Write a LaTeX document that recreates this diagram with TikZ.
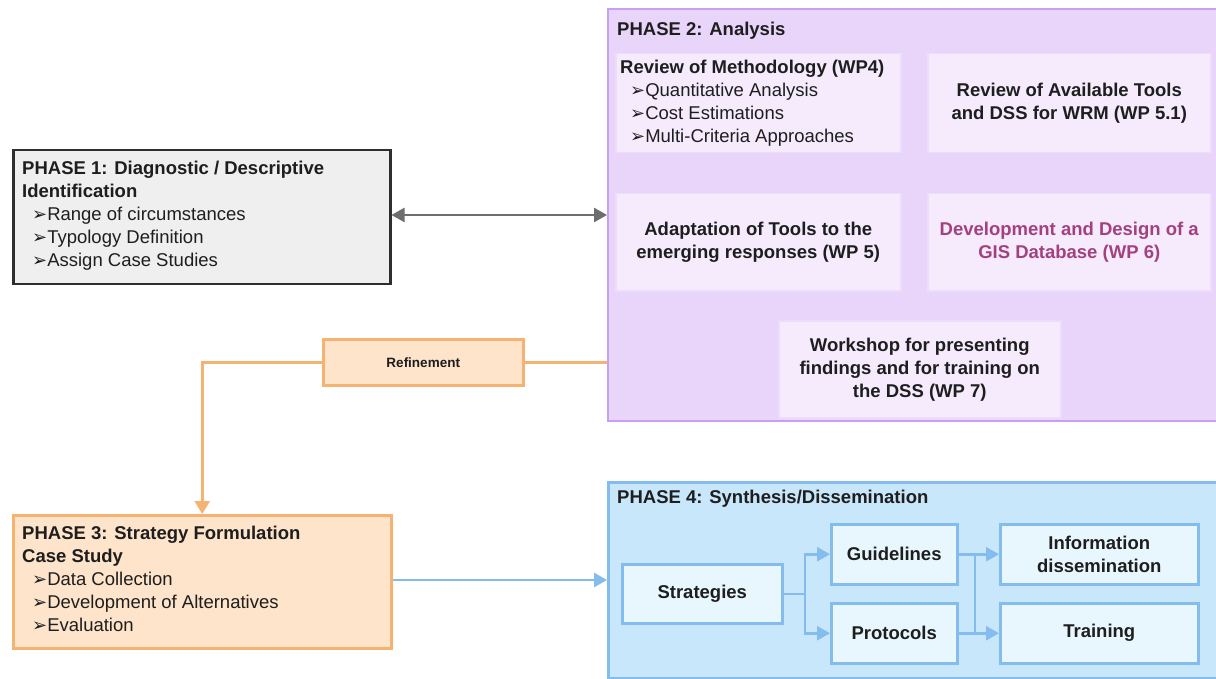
\documentclass[tikz,border=0pt]{standalone}
\usepackage{fontspec}
\setmainfont{Liberation Sans}
\newfontfamily\symfont{DejaVu Sans}
\usetikzlibrary{arrows.meta}
\definecolor{txt}{HTML}{1E1E1E}
\definecolor{grayfill}{HTML}{EFEFEF}
\definecolor{grayline}{HTML}{2E2E2E}
\definecolor{purfill}{HTML}{E9D4FA}
\definecolor{purline}{HTML}{C9A0F1}
\definecolor{purin}{HTML}{F5EBFD}
\definecolor{purinline}{HTML}{EDDCFB}
\definecolor{orfill}{HTML}{FDE4CB}
\definecolor{orline}{HTML}{F5B270}
\definecolor{bluefill}{HTML}{C9E7FB}
\definecolor{blueline}{HTML}{84BCEE}
\definecolor{bluein}{HTML}{E8F7FE}
\definecolor{wpsix}{HTML}{A3417E}
\definecolor{arrgray}{HTML}{6E6E6E}
\newcommand{\itm}{\hspace*{10pt}{\symfont\fontsize{18}{23}\selectfont ➢}}
\tikzset{
  txtfont/.style={font=\fontsize{18.5}{23}\selectfont, text=txt},
  boldfont/.style={font=\fontsize{18.5}{23}\selectfont\bfseries, text=txt},
  phasebox/.style={draw, rectangle, inner sep=0pt, anchor=north west},
  purinner/.style={draw=purinline, line width=1.5pt, fill=purin, rectangle, inner sep=0pt, anchor=north west, align=center, boldfont},
  blueinner/.style={draw=blueline, line width=2.5pt, fill=bluein, rectangle, inner sep=0pt, anchor=north west, align=center, boldfont},
  grayarrow/.style={draw=arrgray, line width=2.5pt, {Triangle[length=13pt,width=14pt]}-{Triangle[length=13pt,width=14pt]}},
  bluearrow/.style={draw=blueline, line width=2.5pt, -{Triangle[length=13pt,width=14pt]}},
  bluelink/.style={draw=blueline, line width=2.5pt},
  orangearrow/.style={draw=orline, line width=2.5pt, -{Triangle[length=13pt,width=15pt]}},
}
\begin{document}
\begin{tikzpicture}[x=1pt,y=-1pt]
\useasboundingbox (0,0) rectangle (1216,679);
\fill[white] (0,0) rectangle (1216,679);

% Phase 1
\node[phasebox, draw=grayline, fill=grayfill, line width=2.5pt, minimum width=377pt, minimum height=134pt] (p1) at (12,149) {};
\node[anchor=north west, inner sep=0pt, align=left, txtfont] (p1t) at (22,161)
  {\textbf{PHASE 1: Diagnostic / Descriptive}\\\textbf{Identification}\\\itm Range of circumstances\\\itm Typology Definition\\\itm Assign Case Studies};

% Phase 2
\node[phasebox, draw=purline, fill=purfill, line width=2pt, minimum width=615pt, minimum height=412pt] (p2) at (607,8) {};
\node[anchor=west, inner sep=0pt, boldfont] (p2t) at (617,31) {PHASE 2: Analysis};
\node[purinner, minimum width=285pt, minimum height=99pt] (wp4) at (615,53) {};
\node[anchor=north west, inner sep=0pt, align=left, txtfont] (wp4t) at (620,60)
  {\textbf{Review of Methodology (WP4)}\\\itm Quantitative Analysis\\\itm Cost Estimations\\\itm Multi-Criteria Approaches};
\node[purinner, minimum width=283pt, minimum height=99pt] (wp51) at (927,53) {Review of Available Tools\\and DSS for WRM (WP 5.1)};
\node[purinner, minimum width=285pt, minimum height=97pt] (wp5) at (615,193) {Adaptation of Tools to the\\emerging responses (WP 5)};
\node[purinner, minimum width=283pt, minimum height=97pt, text=wpsix] (wp6) at (927,193) {Development and Design of a\\GIS Database (WP 6)};
\node[purinner, minimum width=282pt, minimum height=97pt] (wp7) at (778,320) {Workshop for presenting\\findings and for training on\\the DSS (WP 7)};

% Phase1 <-> Phase2
\coordinate (h12) at (0,215);
\draw[grayarrow] (p1.east |- h12) -- (p2.west |- h12);

% Refinement
\node[phasebox, draw=orline, fill=orfill, line width=2.5pt, minimum width=200pt, minimum height=46pt, font=\fontsize{13.5}{15}\selectfont\bfseries, text=txt] (ref) at (322,338) {Refinement};

% Phase 3
\node[phasebox, draw=orline, fill=orfill, line width=2.5pt, minimum width=378pt, minimum height=133pt] (p3) at (12,514) {};
\node[anchor=north west, inner sep=0pt, align=left, txtfont] (p3t) at (22,526)
  {\textbf{PHASE 3: Strategy Formulation}\\\textbf{Case Study}\\\itm Data Collection\\\itm Development of Alternatives\\\itm Evaluation};

\draw[orline, line width=2.5pt] (p2.west |- ref.east) -- (ref.east);
\draw[orangearrow] (ref.west) -| (p3.north);

% Phase 4
\node[phasebox, draw=blueline, fill=bluefill, line width=2.5pt, minimum width=615pt, minimum height=196pt] (p4) at (607,481) {};
\node[anchor=west, inner sep=0pt, boldfont] (p4t) at (617,499) {PHASE 4: Synthesis/Dissemination};
\node[blueinner, minimum width=160pt, minimum height=59pt] (str) at (621,563) {Strategies};
\node[blueinner, minimum width=126pt, minimum height=60pt] (gui) at (830,523) {Guidelines};
\node[blueinner, minimum width=126pt, minimum height=60pt] (pro) at (830,602) {Protocols};
\node[blueinner, minimum width=198pt, minimum height=60pt] (inf) at (999,523) {Information\\dissemination};
\node[blueinner, minimum width=198pt, minimum height=60pt] (tra) at (999,602) {Training};

\coordinate (h34) at (0,580);
\draw[bluearrow] (p3.east |- h34) -- (p4.west |- h34);

\coordinate (xs1) at (805,0);
\coordinate (xs2) at (975,0);
\draw[bluelink] (str.east) -- (str.east -| xs1);
\draw[bluearrow] (str.east -| xs1) |- (gui.west);
\draw[bluearrow] (str.east -| xs1) |- (pro.west);
\draw[bluelink] (gui.east) -- (gui.east -| xs2) -- (pro.east -| xs2) -- (pro.east);
\draw[bluearrow] (gui.east -| xs2) -- (inf.west);
\draw[bluearrow] (pro.east -| xs2) -- (tra.west);
\end{tikzpicture}
\end{document}
